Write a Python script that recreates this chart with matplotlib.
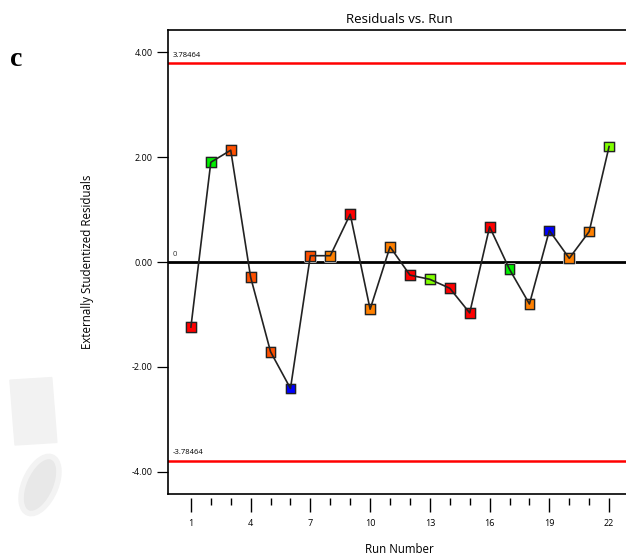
import numpy as np
import matplotlib.pyplot as plt
import matplotlib.patches as mpatches
import matplotlib.patheffects as pe

plt.rcParams['font.family'] = ['Open Sans', 'DejaVu Sans']

# dane
run = np.arange(1, 23)
resid = [-1.24, 1.90, 2.13, -0.29, -1.71, -2.41, 0.12, 0.12, 0.91, -0.90, 0.29,
         -0.25, -0.33, -0.50, -0.97, 0.67, -0.14, -0.80, 0.60, 0.07, 0.58, 2.20]
kolory = ['#FF0000', '#00EE00', '#FF5000', '#FF5000', '#FF5000', '#0000FF', '#FF5000',
          '#FF8000', '#FF0000', '#FF8000', '#FF8000', '#FF0000', '#80FF00', '#FF0000',
          '#FF0000', '#FF0000', '#00EE00', '#FF8000', '#0000FF', '#FF8000', '#FF8000',
          '#80FF00']
limit = 3.78464
yticks = [4, 2, 0, -2, -4]
xticks_major = [1, 4, 7, 10, 13, 16, 19, 22]

fig = plt.figure(figsize=(6.26, 5.56), dpi=100)
ax = fig.add_axes([168/626, 62/556, 462/626, 464/556])

ax.set_xlim(-0.15, 23.05)
ax.set_ylim(-4.42, 4.42)

# linie kontrolne i zero
ax.axhline(limit, color='#FF0000', lw=1.8, zorder=1)
ax.axhline(-limit, color='#FF0000', lw=1.8, zorder=1)
ax.axhline(0, color='black', lw=2.0, zorder=1)
ax.text(0.1, limit + 0.08, '3.78464', fontsize=5.5, va='bottom', ha='left')
ax.text(0.1, -limit + 0.08, '-3.78464', fontsize=5.5, va='bottom', ha='left')
ax.text(0.1, 0.08, '0', fontsize=5.5, va='bottom', ha='left', color='#333333')

# punkty
ax.scatter(run, resid, marker='s', s=50, c=kolory, edgecolors='#222222',
           linewidths=0.9, zorder=3,
           path_effects=[pe.Stroke(linewidth=2, foreground='#d0d0d0'), pe.Normal()])
ax.plot(run, resid, color='#222222', lw=1.2, zorder=4)

# osie
ax.set_yticks(yticks)
ax.set_yticklabels(['4.00', '2.00', '0.00', '-2.00', '-4.00'])
ax.set_xticks(xticks_major)
ax.set_xticks(run, minor=True)
ax.tick_params(axis='y', direction='out', length=8, width=0.9, labelsize=6.5, pad=3)
ax.tick_params(axis='x', which='major', direction='out', length=10, width=1.0,
               labelsize=6.5, pad=5)
ax.tick_params(axis='x', which='minor', direction='out', length=5, width=1.0)
ax.spines['bottom'].set_position(('outward', 3))
ax.spines['bottom'].set_visible(False)
ax.plot([0, 1], [0, 0], transform=ax.transAxes, color='black', lw=1.2, clip_on=False)
ax.spines['right'].set_visible(False)
for s in ['left', 'top']:
    ax.spines[s].set_linewidth(1.2)

ax.set_title('Residuals vs. Run', fontsize=9.5, pad=5)
ax.set_xlabel('Run Number', fontsize=8.3)
ax.xaxis.set_label_coords(0.5, -0.105)
ax.set_ylabel('Externally Studentized Residuals', fontsize=8.3)
ax.yaxis.set_label_coords(-0.16, 0.5)

fig.text(10/626, 1 - 60/556, 'c', fontsize=20, fontweight='bold',
         family='Liberation Serif', va='center', ha='left')

# blady znak wodny w lewym dolnym rogu
fig.patches.append(mpatches.Rectangle((15/626, 1 - 445/556), 42/626, 65/556,
                                      angle=4, color='#f2f2f2', transform=fig.transFigure,
                                      zorder=0))
fig.patches.append(mpatches.Ellipse((40/626, 1 - 485/556), 32/626, 60/556,
                                    angle=-20, facecolor='#e8e8e8', edgecolor='#f3f3f3',
                                    lw=4, transform=fig.transFigure, zorder=0))

fig.savefig('out.png', dpi=100)
